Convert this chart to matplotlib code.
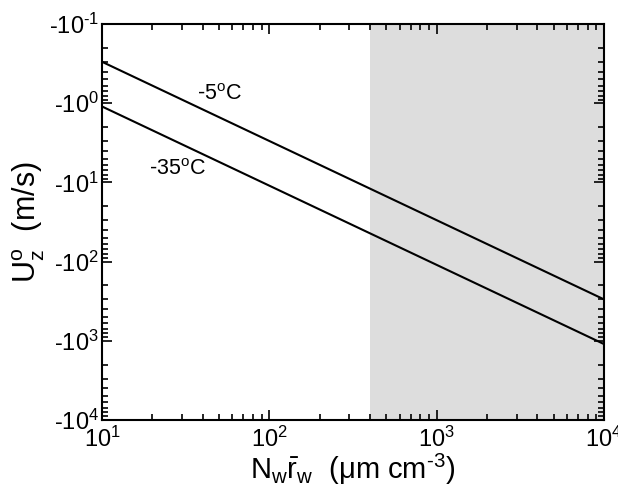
import numpy as np
import matplotlib

matplotlib.use("Agg")
import matplotlib.pyplot as plt
from matplotlib.ticker import FixedLocator, LogLocator, NullFormatter

plt.rcParams["font.family"] = ["Liberation Sans", "DejaVu Sans"]
plt.rcParams["mathtext.fontset"] = "custom"
plt.rcParams["mathtext.rm"] = "Liberation Sans"
plt.rcParams["mathtext.it"] = "Liberation Sans"
plt.rcParams["mathtext.default"] = "regular"

# --- данные (модуль U, ось инвертирована, подписи со знаком минус)
nr = [10, 1e4]
u_m5 = [0.30, 300]
u_m35 = [1.1, 1100]
labels = ["-5$^{o}$C", "-35$^{o}$C"]
shade_from = 400
y_decades = [-1, 0, 1, 2, 3, 4]
x_decades = [1, 2, 3, 4]

HY = "\u2010"  # короткий дефис вместо математического минуса

fig = plt.figure(figsize=(6.18, 4.95), dpi=100)
ax = fig.add_axes([102 / 618, 1 - 420 / 495, 502 / 618, 396 / 495])

ax.axvspan(shade_from, 1e4, color="#dddddd", lw=0, zorder=0)
ax.plot(nr, u_m5, color="black", lw=1.5)
ax.plot(nr, u_m35, color="black", lw=1.5)

ax.set_xscale("log")
ax.set_yscale("log")
ax.set_xlim(10, 1e4)
ax.set_ylim(1e4, 1e-1)

ax.yaxis.set_major_locator(FixedLocator([10.0 ** d for d in y_decades]))
ax.set_yticklabels(["-10$^{" + str(d).replace("-", HY) + "}$" for d in y_decades])
ax.xaxis.set_major_locator(FixedLocator([10.0 ** d for d in x_decades]))
ax.set_xticklabels([f"10$^{{{d}}}$" for d in x_decades])
for axis in (ax.xaxis, ax.yaxis):
    axis.set_minor_locator(LogLocator(base=10, subs=np.arange(2, 10), numticks=20))
    axis.set_minor_formatter(NullFormatter())

ax.tick_params(which="both", direction="in", top=True, right=True, width=1.2,
               labelsize=17)
ax.tick_params(axis="y", pad=2)
ax.tick_params(axis="x", pad=5)
ax.tick_params(which="major", length=7)
ax.tick_params(which="minor", length=4)
for s in ax.spines.values():
    s.set_linewidth(1.5)

ax.text(37, 0.9, labels[0], fontsize=15.5)
ax.text(19, 8, labels[1], fontsize=15.5)

ax.set_xlabel(r"N$_w\bar{r}_w$  ($\mu$m cm$^{" + HY + "3}$)", fontsize=21)
ax.xaxis.set_label_coords(0.5, -0.08)
ax.set_ylabel("U$_z^o$  (m/s)", fontsize=22)
ax.yaxis.set_label_coords(-0.11, 0.5)

fig.savefig("out.png")
